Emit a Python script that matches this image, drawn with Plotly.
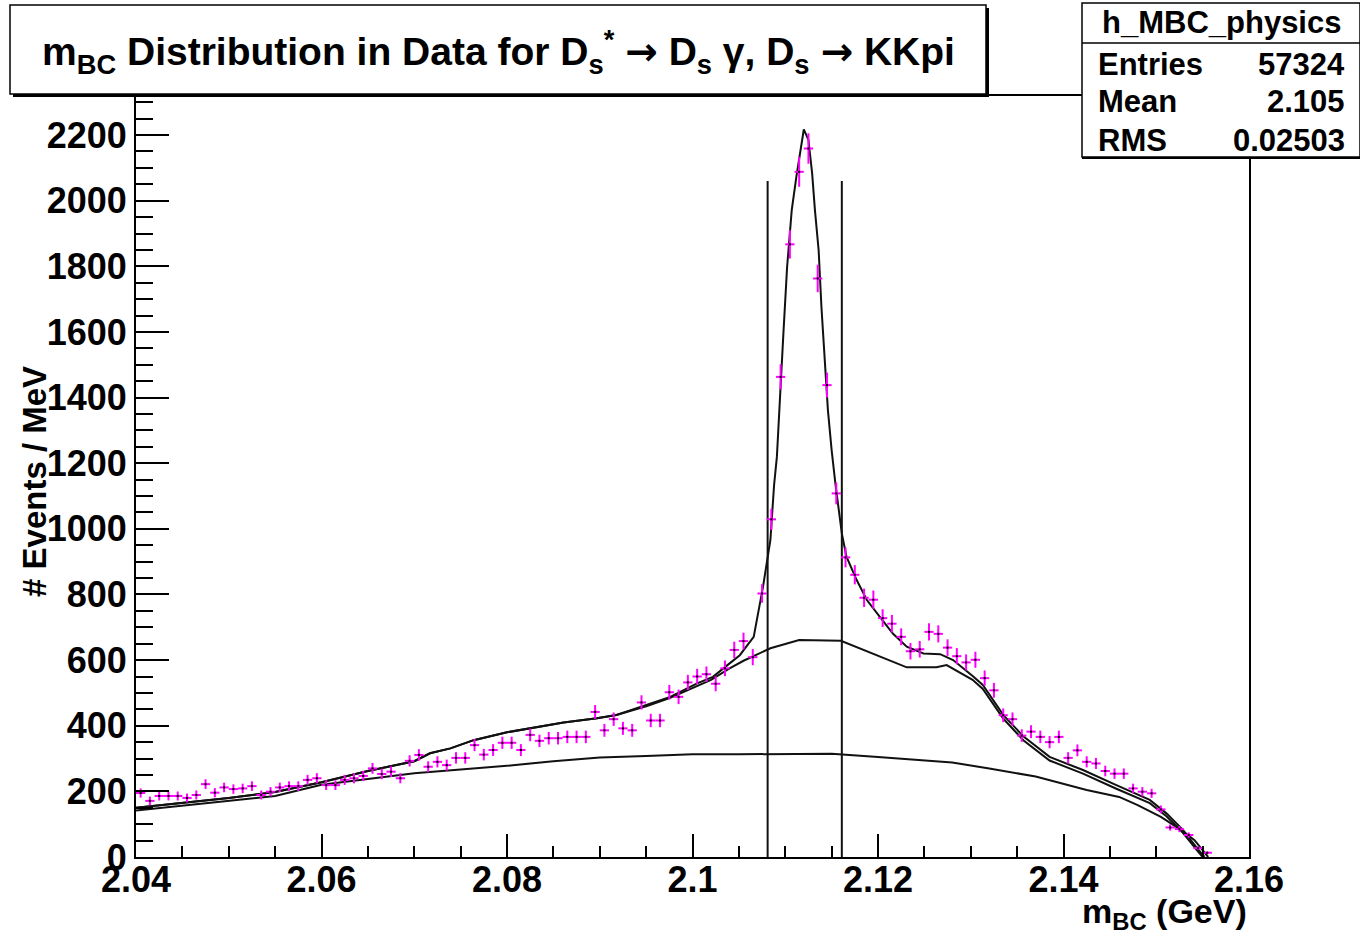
import numpy as np
import plotly.graph_objects as go

# ---------------- data ----------------
bin_lo = 2.040
bin_width = 0.001
counts = [195, 171, 186, 186, 186, 180, 189, 222, 196, 212,
          207, 209, 216, 189, 199, 212, 216, 216, 235, 240,
          219, 219, 235, 240, 247, 270, 253, 260, 240, 293,
          311, 275, 290, 280, 302, 302, 341, 312, 326, 348,
          348, 326, 372, 354, 362, 362, 366, 366, 366, 442,
          386, 420, 392, 386, 471, 416, 416, 502, 488, 532,
          550, 557, 528, 575, 631, 658, 609, 803, 1029, 1463,
          1867, 2088, 2159, 1763, 1438, 1108, 913, 860, 790, 784,
          728, 711, 671, 627, 633, 686, 680, 638, 612, 593,
          601, 545, 508, 432, 420, 370, 382, 366, 350, 366,
          302, 325, 290, 285, 262, 254, 254, 209, 199, 194,
          145, 90, 85, 67, 27, 13, None, None, None, None]

# total fit (signal + background)
total_x = [2.040, 2.045, 2.050, 2.055, 2.060, 2.065, 2.070, 2.0717, 2.0739, 2.0764,
           2.080, 2.0861, 2.0897, 2.0918, 2.0951, 2.0976, 2.1005, 2.1022, 2.1040, 2.1051,
           2.1066, 2.1076, 2.1084, 2.1088, 2.1091, 2.1094, 2.1098, 2.1102, 2.1107, 2.1112,
           2.1118, 2.1120, 2.1125, 2.1129, 2.1132, 2.1136, 2.1139, 2.1143, 2.1146, 2.1150,
           2.1154, 2.1161, 2.1166, 2.1177, 2.1188, 2.1202, 2.1216, 2.1231, 2.1249, 2.1267,
           2.1281, 2.1303, 2.1313, 2.1335, 2.1357, 2.1385, 2.1421, 2.1457, 2.1493, 2.1511,
           2.1529, 2.1544, 2.1552]
total_y = [150, 165, 180, 198, 228, 262, 292, 316, 331, 356,
           380, 410, 423, 433, 463, 488, 529, 549, 590, 615,
           671, 823, 966, 1135, 1220, 1392, 1595, 1798, 1971, 2073,
           2185, 2217, 2185, 2083, 1971, 1849, 1677, 1494, 1362, 1240,
           1139, 986, 915, 844, 783, 732, 681, 641, 620, 618,
           600, 549, 524, 433, 367, 305, 265, 219, 174, 133,
           82, 27, 0]

# broad background component
bg2_x = [2.040, 2.045, 2.050, 2.055, 2.060, 2.065, 2.070, 2.0717, 2.0739, 2.0764,
         2.080, 2.0861, 2.0897, 2.0918, 2.0951, 2.0976, 2.1000, 2.1020, 2.1040, 2.1055,
         2.1084, 2.1115, 2.1160, 2.1195, 2.1231, 2.1263, 2.1274, 2.1302, 2.1313, 2.1335,
         2.1357, 2.1385, 2.1421, 2.1457, 2.1493, 2.1511, 2.1529, 2.1544, 2.1550]
bg2_y = [150, 165, 180, 198, 228, 262, 292, 316, 331, 356,
         380, 410, 423, 433, 460, 485, 515, 540, 575, 598,
         636, 661, 659, 620, 578, 578, 585, 540, 512, 422,
         355, 294, 254, 208, 164, 124, 73, 20, 0]

# smooth combinatorial background
bg1_x = [2.040, 2.045, 2.050, 2.055, 2.060, 2.065, 2.070, 2.075, 2.080, 2.085,
         2.090, 2.095, 2.100, 2.105, 2.110, 2.115, 2.120, 2.125, 2.128, 2.132,
         2.137, 2.1425, 2.146, 2.148, 2.1505, 2.1527, 2.1541, 2.1550, 2.1556]
bg1_y = [142, 156, 170, 186, 220, 238, 255, 267, 278, 292,
         303, 308, 313, 313, 315, 315, 305, 295, 288, 270,
         245, 204, 183, 158, 122, 82, 52, 21, 0]

window_edges = [2.1081, 2.1161]
window_top = 2060

stats_name = "h_MBC_physics"
stats_rows = [("Entries", "57324"), ("Mean", "2.105"), ("RMS", "0.02503")]

# ---------------- figure ----------------
W, H = 1360, 938
L, R, T, B = 136, 1249, 96, 857
FONT = "Liberation Sans, Arial, sans-serif"

def px(xp):
    return (xp - L) / (R - L)

def py(yp):
    return (B - yp) / (B - T)

xc = [bin_lo + (i + 0.5) * bin_width for i in range(len(counts))]
errs = [np.sqrt(c) if c is not None else None for c in counts]

fig = go.Figure()

line_style = dict(color="#111111", width=2)
fig.add_trace(go.Scatter(x=bg1_x, y=bg1_y, mode="lines", line=line_style, hoverinfo="skip"))
fig.add_trace(go.Scatter(x=bg2_x, y=bg2_y, mode="lines", line=line_style, hoverinfo="skip"))
fig.add_trace(go.Scatter(x=total_x, y=total_y, mode="lines", line=line_style, hoverinfo="skip"))

for xe in window_edges:
    fig.add_trace(go.Scatter(x=[xe, xe], y=[0, window_top], mode="lines",
                             line=dict(color="#111111", width=2), hoverinfo="skip"))

fig.add_trace(go.Scatter(
    x=xc, y=counts, mode="markers",
    marker=dict(symbol="square", size=2, color="black"),
    error_y=dict(type="data", array=errs, visible=True, color="#ff00ff", thickness=2, width=0),
    error_x=dict(type="constant", value=bin_width / 2, visible=True, color="#ff00ff", thickness=2, width=0),
))

tickfont = dict(family=FONT, size=36, color="black", weight="bold")

fig.update_layout(
    width=W, height=H,
    margin=dict(l=L, r=W - R, t=T, b=H - B),
    paper_bgcolor="white", plot_bgcolor="white",
    showlegend=False,
    font=dict(family=FONT, color="black"),
    xaxis=dict(range=[2.04, 2.16], dtick=0.02, tick0=2.04, ticks="inside", ticklen=23,
               tickwidth=2, tickcolor="black", showgrid=False, zeroline=False,
               showline=True, linecolor="black", linewidth=2, mirror=True,
               tickfont=tickfont, tickformat="~g", ticklabelstandoff=-10,
               minor=dict(dtick=0.005, ticks="inside", ticklen=11, tickwidth=2,
                          tickcolor="black", showgrid=False)),
    yaxis=dict(range=[0, 2319], dtick=200, tick0=0, ticks="inside", ticklen=33,
               tickwidth=2, tickcolor="black", showgrid=False, zeroline=False,
               showline=True, linecolor="black", linewidth=2, mirror=True,
               tickfont=tickfont, ticklabelstandoff=0,
               minor=dict(dtick=50, ticks="inside", ticklen=17, tickwidth=2,
                          tickcolor="black", showgrid=False)),
)

# title box with shadow
shapes = []
shapes.append(dict(type="rect", xref="paper", yref="paper",
                   x0=px(13), x1=px(989), y0=py(97), y1=py(8),
                   fillcolor="black", line=dict(width=0), layer="above"))
shapes.append(dict(type="rect", xref="paper", yref="paper",
                   x0=px(10), x1=px(986), y0=py(94), y1=py(5),
                   fillcolor="white", line=dict(color="black", width=1.5), layer="above"))
# stats box
shapes.append(dict(type="rect", xref="paper", yref="paper",
                   x0=px(1082), x1=px(1360), y0=py(157), y1=py(3),
                   fillcolor="white", line=dict(color="black", width=1.5), layer="above"))
shapes.append(dict(type="line", xref="paper", yref="paper",
                   x0=px(1082), x1=px(1360), y0=py(43), y1=py(43),
                   line=dict(color="black", width=1.5), layer="above"))
shapes.append(dict(type="line", xref="paper", yref="paper",
                   x0=px(1082), x1=px(1360), y0=py(158), y1=py(158),
                   line=dict(color="black", width=2), layer="above"))
fig.update_layout(shapes=shapes)

ARROW = "<span style='font-family:DejaVu Sans'>\u2192</span>"
ann = []
ann.append(dict(xref="paper", yref="paper", x=px(498), y=py(52), xanchor="center", yanchor="middle",
                showarrow=False,
                text=("<b>m<sub>BC</sub> Distribution in Data for D<sub>s</sub><sup>*</sup> " + ARROW +
                      " D<sub>s</sub> \u03b3, D<sub>s</sub> " + ARROW + " KKpi</b>"),
                font=dict(family=FONT, size=39, color="black")))
ann.append(dict(xref="paper", yref="paper", x=px(1221), y=py(23), xanchor="center", yanchor="middle",
                showarrow=False, text="<b>" + stats_name + "</b>",
                font=dict(family=FONT, size=31, color="black")))
row_y = [64, 102, 140]
for (lab, val), yy in zip(stats_rows, row_y):
    ann.append(dict(xref="paper", yref="paper", x=px(1096), y=py(yy), xanchor="left", yanchor="middle",
                    showarrow=False, text="<b>" + lab + "</b>",
                    font=dict(family=FONT, size=31, color="black")))
    ann.append(dict(xref="paper", yref="paper", x=px(1347), y=py(yy), xanchor="right", yanchor="middle",
                    showarrow=False, text="<b>" + val + "</b>",
                    font=dict(family=FONT, size=31, color="black")))
ann.append(dict(xref="paper", yref="paper", x=px(1249), y=py(914), xanchor="right", yanchor="middle",
                showarrow=False, text="<b>m<sub>BC</sub> (GeV)</b>",
                font=dict(family=FONT, size=34, color="black")))
ann.append(dict(xref="paper", yref="paper", x=px(34), y=py(482), xanchor="center", yanchor="middle",
                showarrow=False, textangle=-90, text="<b># Events / MeV</b>",
                font=dict(family=FONT, size=33, color="black")))
fig.update_layout(annotations=ann)

fig.write_html("out.html", config={"displayModeBar": False},
               post_script="document.body.style.margin='0px';document.body.style.overflow='hidden';")
